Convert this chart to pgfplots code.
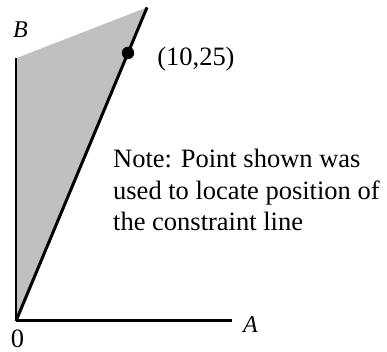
\documentclass[border=0pt]{standalone}
\usepackage{fontspec}
\setmainfont{Liberation Serif}
\usepackage{pgfplots}
\pgfplotsset{compat=1.18}
\definecolor{shade}{RGB}{192,192,192}
\begin{document}
\begin{tikzpicture}
\begin{axis}[
  x=11.2pt, y=10.72pt,
  xmin=-1.43, xmax=33.13, ymin=-2.89, ymax=29.94,
  hide axis, clip=false,
]
\path (axis cs:-1.43,-2.89) rectangle (axis cs:33.13,29.94);
% feasible region
\addplot[fill=shade, draw=none] coordinates {(0,0) (0,24.5) (11.7,29.25)} -- cycle;
% axes
\addplot[black, line width=2.4pt] coordinates {(0,0) (0,24.5)};
\addplot[black, line width=3pt] coordinates {(0,0) (19.3,0)};
% constraint line
\addplot[black, line width=3pt] coordinates {(0,0) (11.7,29.25)};
% point
\addplot[only marks, mark=*, mark size=6pt, black] coordinates {(10,25)};
% labels
\node[inner sep=0pt, font=\fontsize{24}{28}\selectfont\itshape] at (axis cs:0.4,27.15) {B};
\node[inner sep=0pt, font=\fontsize{24}{28}\selectfont\itshape] at (axis cs:20.94,-0.33) {A};
\node[inner sep=0pt, font=\fontsize{26.5}{30}\selectfont] at (axis cs:0.13,-1.63) {0};
\node[inner sep=0pt, anchor=west, font=\fontsize{26.5}{31}\selectfont] at (axis cs:12.6,24.44) {(10,25)};
\node[inner sep=0pt, anchor=base west, font=\fontsize{26.5}{31}\selectfont] at (axis cs:8.66,14.27) {Note: Point shown was};
\node[inner sep=0pt, anchor=base west, font=\fontsize{26.5}{31}\selectfont] at (axis cs:8.66,11.29) {used to locate position of};
\node[inner sep=0pt, anchor=base west, font=\fontsize{26.5}{31}\selectfont] at (axis cs:8.66,8.40) {the constraint line};
\end{axis}
\end{tikzpicture}
\end{document}
